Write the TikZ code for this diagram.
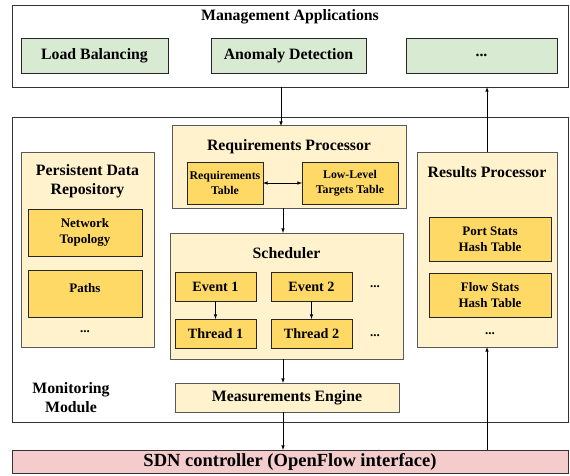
\documentclass[tikz,border=0pt]{standalone}
\usepackage{fontspec}
\setmainfont{Liberation Serif}
\usetikzlibrary{arrows,shadows,calc}
\definecolor{appgreen}{HTML}{D9EAD3}
\definecolor{boxcream}{HTML}{FFF2CC}
\definecolor{boxyellow}{HTML}{FFD966}
\definecolor{ctrlpink}{HTML}{F4CCCC}
\newcommand{\bigfont}{\bfseries\fontsize{15.8}{19}\selectfont}
\newcommand{\midfont}{\bfseries\fontsize{13}{16}\selectfont}
\newcommand{\evfont}{\bfseries\fontsize{14.2}{17}\selectfont}
\newcommand{\smallfont}{\bfseries\fontsize{11.8}{14.5}\selectfont}

\begin{document}
\begin{tikzpicture}[x=1pt, y=-1pt,
    layer/.style={draw=black!80, fill=white, line width=0.8pt, inner sep=0pt, outer sep=0pt,
      drop shadow={shadow xshift=1.2pt, shadow yshift=-1.2pt, fill=black!55, opacity=1}},
    app/.style={draw=black!85, fill=appgreen, line width=0.8pt, inner sep=0pt, outer sep=0pt,
      minimum width=#1, minimum height=35pt, font=\bigfont},
    part/.style={draw=black!65, fill=boxcream, line width=1pt, inner sep=0pt, outer sep=0pt},
    item/.style={draw=black!85, fill=boxyellow, line width=0.8pt, inner sep=0pt, outer sep=0pt,
      align=center},
    title/.style={font=\bigfont, align=center, inner sep=0pt},
    dots/.style={font=\midfont, inner sep=0pt, anchor=base},
    arr/.style={draw, line width=0.6pt, -latex}]
  \useasboundingbox (0,0) rectangle (570,476);

  %management applications
  \node[layer, minimum width=556pt, minimum height=82pt] (mgmt) at (290,46) {};
  \node[title] (mgmttitle) at (290,17) {Management Applications};
  \node[app=147pt] (lb) at (94.5,55.5) {Load Balancing};
  \node[app=155pt] (ad) at (288.5,55.5) {Anomaly Detection};
  \node[app=151pt] (more) at (481.5,55.5) {...};

  %monitoring module
  \node[layer, minimum width=556pt, minimum height=305pt] (mon) at (290,269.5) {};
  \node[title] (montitle) at (71,398) {Monitoring\\Module};

  %persistent data repository
  \node[part, minimum width=133pt, minimum height=195pt] (pdr) at (87.5,249.5) {};
  \node[title] (pdrtitle) at (87.5,181) {Persistent Data\\Repository};
  \node[item, minimum width=114pt, minimum height=47pt, font=\midfont] (topo) at (85,232.5) {Network\\Topology};
  \node[item, minimum width=114pt, minimum height=47pt, font=\midfont, text depth=11pt] (paths) at (85,293.5) {Paths};
  \node[dots] (pdrdots) at (85,332) {...};

  %requirements processor
  \node[part, minimum width=234pt, minimum height=82pt] (reqp) at (289,167) {};
  \node[title] (reqptitle) at (289,147) {Requirements Processor};
  \node[item, minimum width=76pt, minimum height=42pt, font=\smallfont] (reqtab) at (225,183) {Requirements\\Table};
  \node[item, minimum width=96pt, minimum height=42pt, font=\smallfont] (lowtab) at (350,183) {Low-Level\\Targets Table};

  %scheduler
  \node[part, minimum width=233pt, minimum height=126pt] (sched) at (286.5,296) {};
  \node[title] (schedtitle) at (286.5,253) {Scheduler};
  \node[item, minimum width=81pt, minimum height=29pt, font=\evfont] (ev1) at (215.5,286.5) {Event 1};
  \node[item, minimum width=81pt, minimum height=29pt, font=\evfont] (ev2) at (311.5,286.5) {Event 2};
  \node[item, minimum width=81pt, minimum height=29pt, font=\evfont] (th1) at (215.5,333.5) {Thread 1};
  \node[item, minimum width=81pt, minimum height=29pt, font=\evfont] (th2) at (311.5,333.5) {Thread 2};
  \node[dots] (evdots) at (375,287) {...};
  \node[dots] (thdots) at (375,336) {...};

  %results processor
  \node[part, minimum width=140pt, minimum height=195pt] (resp) at (487,249.5) {};
  \node[title] (resptitle) at (487,172) {Results Processor};
  \node[item, minimum width=122pt, minimum height=44pt, font=\midfont] (porttab) at (490,239) {Port Stats\\Hash Table};
  \node[item, minimum width=122pt, minimum height=44pt, font=\midfont] (flowtab) at (490,295) {Flow Stats\\Hash Table};
  \node[dots] (respdots) at (490,334) {...};

  %measurements engine and controller
  \node[part, minimum width=224pt, minimum height=29pt, font=\bigfont] (meas) at (287,397.5) {Measurements Engine};
  \node[layer, fill=ctrlpink, minimum width=556pt, minimum height=23pt,
    font=\bfseries\fontsize{18.5}{22}\selectfont] (sdn) at (290,461.5) {SDN controller (OpenFlow interface)};

  %edges
  \path[arr] ([xshift=-9pt]mgmt.south) -- ([xshift=-9pt]mgmt.south |- reqp.north);
  \path[arr] (resp.north) -- (resp.north |- mgmt.south);
  \path[draw, line width=0.6pt, latex-latex] (reqtab) -- (lowtab);
  \path[arr] ([xshift=-6pt]reqp.south) -- ([xshift=-6pt]reqp.south |- sched.north);
  \path[arr] (ev1) -- (th1);
  \path[arr] (ev2) -- (th2);
  \path[arr] ([xshift=-4pt]meas.north |- sched.south) -- ([xshift=-4pt]meas.north);
  \path[arr] ([xshift=-4pt]meas.south) -- ([xshift=-4pt]meas.south |- sdn.north);
  \path[arr] (resp.south |- sdn.north) -- (resp.south);
\end{tikzpicture}
\end{document}
